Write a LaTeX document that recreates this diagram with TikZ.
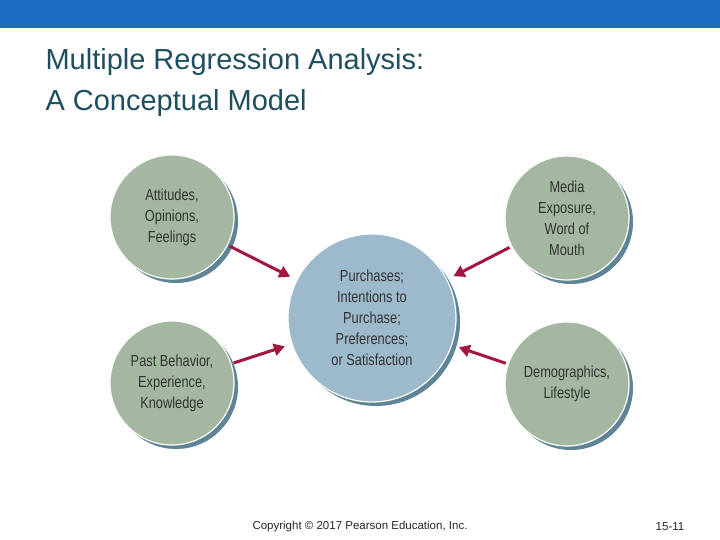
\documentclass[tikz,border=0pt]{standalone}
\usepackage{fontspec}
\setmainfont{Liberation Sans}
\newfontfamily\cond{Liberation Sans}[FakeStretch=0.8]
\usetikzlibrary{arrows.meta}
\definecolor{bar}{HTML}{1A6DC2}
\definecolor{ttl}{HTML}{1F4E5F}
\definecolor{grn}{HTML}{A4B8A1}
\definecolor{blu}{HTML}{9DB9CC}
\definecolor{shd}{HTML}{5E8496}
\definecolor{arr}{HTML}{A3173F}
\begin{document}
\begin{tikzpicture}[x=1pt,y=-1pt,
  ball/.style={circle,draw=white,line width=1.2pt,inner sep=0pt,align=center,font=\cond\fontsize{16}{21}\selectfont,text=black!80,
    append after command={}},
  conn/.style={draw=arr,line width=3pt,-{Triangle[length=11pt,width=12pt,sep=4pt]},shorten <=2pt}]
\useasboundingbox (0,0) rectangle (720,540);
\fill[white] (0,0) rectangle (720,540);
\fill[bar] (0,0) rectangle (720,28);
\node[anchor=west,text=ttl,font=\fontsize{29}{34}\selectfont] at (42,62) {Multiple Regression Analysis:};
\node[anchor=west,text=ttl,font=\fontsize{29}{34}\selectfont] at (42,103) {A Conceptual Model};
% shadows
\foreach \p/\r in {{(172,217)}/62,{(172,383)}/62,{(567,218)}/62,{(567,384)}/62,{(372,318)}/84}
  \fill[shd] \p ++(4,4) circle (\r);
\node[ball,fill=grn,minimum size=124pt] (a) at (172,217) {Attitudes,\\Opinions,\\Feelings};
\node[ball,fill=grn,minimum size=124pt] (b) at (172,383) {Past Behavior,\\Experience,\\Knowledge};
\node[ball,fill=grn,minimum size=124pt] (m) at (567,218) {Media\\Exposure,\\Word of\\Mouth};
\node[ball,fill=grn,minimum size=124pt] (d) at (567,384) {Demographics,\\Lifestyle};
\node[ball,fill=blu,minimum size=168pt] (c) at (372,318) {Purchases;\\Intentions to\\Purchase;\\Preferences;\\or Satisfaction};
\draw[conn,shorten >=3pt] (a) -- (c);
\draw[conn,shorten >=3pt] (b) -- (c);
\draw[conn,shorten >=3pt] (m) -- (c);
\draw[conn,shorten >=3pt] (d) -- (c);
\node[font=\fontsize{11.5}{13}\selectfont,text=black!85] (cp) at (360,527) {Copyright © 2017 Pearson Education, Inc.};
\node[font=\fontsize{11.5}{13}\selectfont,text=black!85] (pg) at (670,527) {15-11};
\end{tikzpicture}
\end{document}
